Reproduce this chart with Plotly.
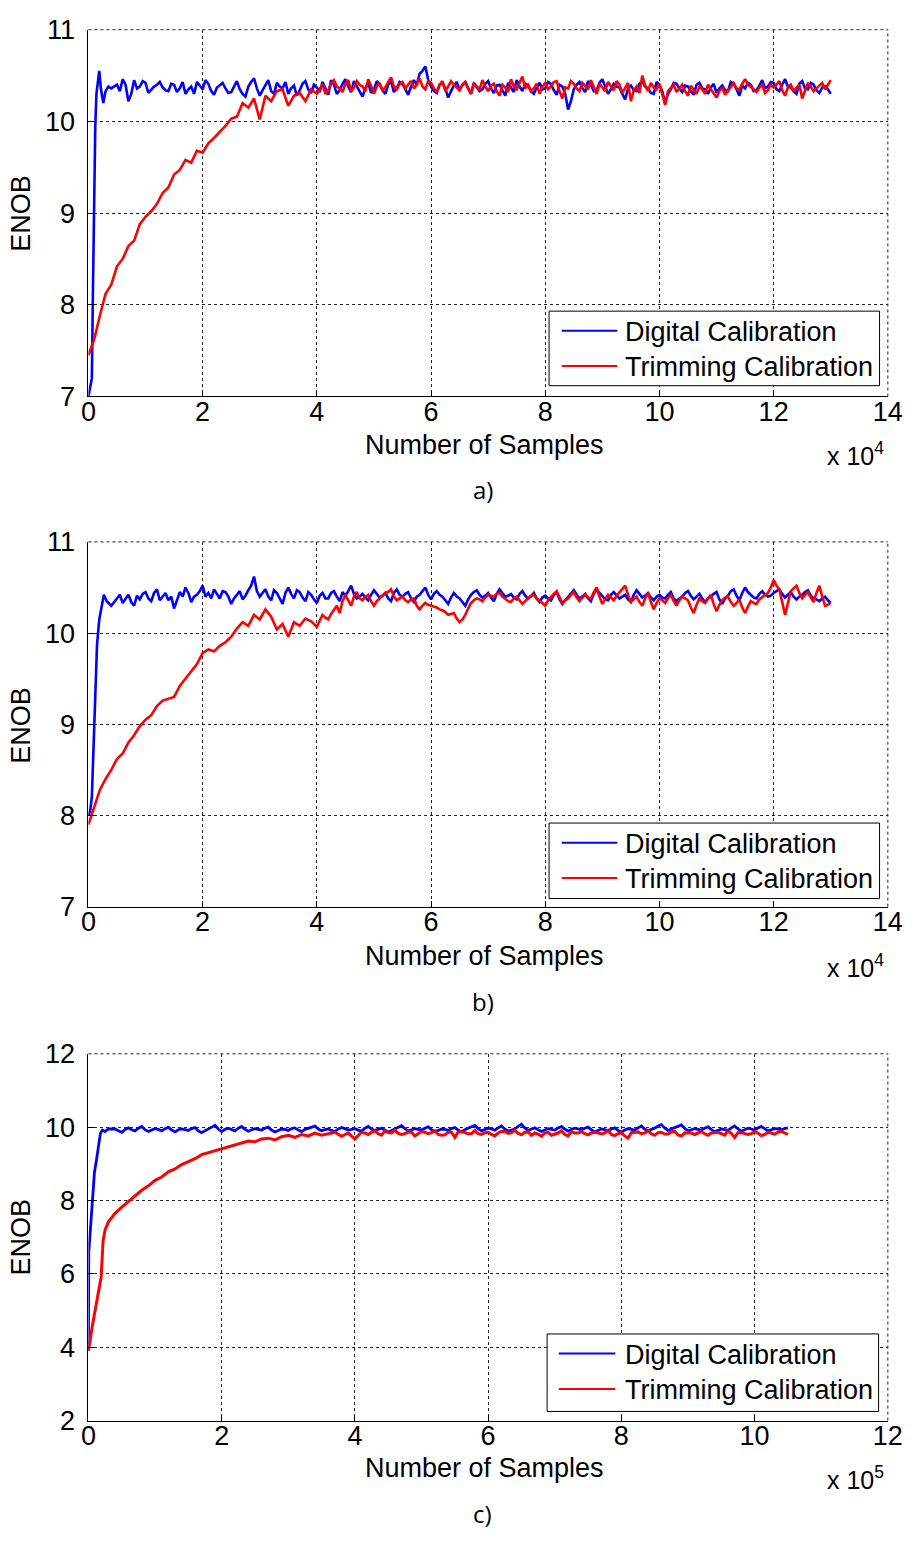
import plotly.graph_objects as go

# ---------------- data (x in units of 1e4 for a/b, 1e5 for c) ----------------
# Panel a
a_blue_rise_x = [0, 0.03, 0.06, 0.08, 0.10, 0.12, 0.14, 0.17, 0.19, 0.22, 0.26, 0.30, 0.35, 0.40]
a_blue_rise_y = [7.0, 7.1, 7.2, 8.2, 9.2, 9.95, 10.3, 10.45, 10.55, 10.35, 10.2, 10.33, 10.38, 10.36]
# values at x = 0.5, 0.6, ... 13.0
a_blue_plateau = [
    10.40, 10.46, 10.22, 10.45, 10.38, 10.42, 10.35, 10.40, 10.37, 10.33,
    10.40, 10.36, 10.30, 10.38, 10.43, 10.35, 10.41, 10.29, 10.40, 10.36,
    10.32, 10.44, 10.30, 10.38, 10.47, 10.28, 10.40, 10.33, 10.42, 10.36,
    10.30, 10.39, 10.34, 10.44, 10.31, 10.37, 10.43, 10.29, 10.40, 10.34,
    10.46, 10.32, 10.38, 10.27, 10.42, 10.35, 10.40, 10.30, 10.44, 10.36,
    10.41, 10.29, 10.45, 10.52, 10.60, 10.38, 10.31, 10.42, 10.26, 10.39,
    10.34, 10.43, 10.30, 10.38, 10.35, 10.44, 10.31, 10.40, 10.28, 10.37,
    10.45, 10.33, 10.39, 10.30, 10.42, 10.36, 10.41, 10.29, 10.38, 10.13,
    10.35, 10.43, 10.32, 10.40, 10.34, 10.46, 10.30, 10.41, 10.37, 10.24,
    10.39, 10.33, 10.44, 10.36, 10.30, 10.40, 10.20, 10.35, 10.41, 10.32,
    10.38, 10.29, 10.42, 10.35, 10.37, 10.31, 10.39, 10.33, 10.41, 10.28,
    10.36, 10.40, 10.34, 10.45, 10.38, 10.42, 10.33, 10.46, 10.37, 10.30,
    10.44, 10.35, 10.40, 10.31, 10.38, 10.30]
# values at x = 0.55, 0.65, ... 12.95
a_blue_half = [
    10.33, 10.40, 10.30, 10.36, 10.44, 10.31, 10.38, 10.43, 10.34, 10.41,
    10.32, 10.43, 10.35, 10.30, 10.39, 10.45, 10.33, 10.37, 10.42, 10.31,
    10.39, 10.35, 10.27, 10.43, 10.36, 10.34, 10.45, 10.30, 10.38, 10.43,
    10.36, 10.28, 10.41, 10.35, 10.40, 10.32, 10.36, 10.45, 10.30, 10.41,
    10.38, 10.44, 10.33, 10.36, 10.31, 10.44, 10.34, 10.40, 10.32, 10.43,
    10.35, 10.38, 10.40, 10.55, 10.45, 10.33, 10.40, 10.36, 10.33, 10.43,
    10.40, 10.36, 10.42, 10.33, 10.41, 10.36, 10.39, 10.34, 10.42, 10.32,
    10.38, 10.41, 10.33, 10.37, 10.35, 10.43, 10.34, 10.40, 10.30, 10.22,
    10.40, 10.36, 10.44, 10.33, 10.42, 10.37, 10.35, 10.38, 10.30, 10.36,
    10.34, 10.41, 10.38, 10.31, 10.43, 10.33, 10.30, 10.42, 10.36, 10.39,
    10.33, 10.40, 10.36, 10.30, 10.41, 10.36, 10.34, 10.43, 10.35, 10.39,
    10.42, 10.33, 10.39, 10.36, 10.43, 10.35, 10.40, 10.38, 10.33, 10.41,
    10.36, 10.42, 10.34, 10.37, 10.35]
# values at x = 0.0, 0.1, ... 13.0
a_red = [
    7.45, 7.62, 7.88, 8.12, 8.22, 8.42, 8.50, 8.64, 8.70, 8.88,
    8.96, 9.02, 9.10, 9.22, 9.28, 9.42, 9.47, 9.58, 9.55, 9.68,
    9.66, 9.76, 9.82, 9.88, 9.95, 10.03, 10.05, 10.20, 10.15, 10.25,
    10.02, 10.28, 10.22, 10.33, 10.35, 10.17, 10.28, 10.31, 10.22, 10.35,
    10.30, 10.40, 10.34, 10.45, 10.36, 10.41, 10.33, 10.44, 10.38, 10.46,
    10.30, 10.42, 10.37, 10.48, 10.35, 10.43, 10.40, 10.36, 10.47, 10.35,
    10.42, 10.32, 10.44, 10.38, 10.40, 10.34, 10.43, 10.30, 10.38, 10.45,
    10.33, 10.41, 10.28, 10.37, 10.46, 10.35, 10.49, 10.40, 10.36, 10.30,
    10.42, 10.38, 10.44, 10.25, 10.36, 10.41, 10.33, 10.39, 10.45, 10.30,
    10.37, 10.43, 10.34, 10.40, 10.36, 10.22, 10.38, 10.50, 10.33, 10.37,
    10.41, 10.18, 10.36, 10.32, 10.40, 10.28, 10.35, 10.38, 10.30, 10.35,
    10.26, 10.37, 10.33, 10.42, 10.35, 10.46, 10.38, 10.32, 10.40, 10.34,
    10.37, 10.44, 10.28, 10.40, 10.36, 10.25, 10.42, 10.33, 10.39, 10.35,
    10.45]
# values at x = 4.05, 4.15, ... 12.95
a_red_half = [
    10.35, 10.30, 10.41, 10.38, 10.32, 10.45, 10.37, 10.40, 10.33, 10.39,
    10.38, 10.34, 10.43, 10.38, 10.41, 10.36, 10.44, 10.40, 10.38, 10.44,
    10.36, 10.40, 10.33, 10.44, 10.37, 10.40, 10.36, 10.41, 10.35, 10.38,
    10.39, 10.33, 10.40, 10.32, 10.38, 10.43, 10.36, 10.33, 10.41, 10.38,
    10.35, 10.43, 10.33, 10.37, 10.44, 10.36, 10.42, 10.35, 10.38, 10.41,
    10.33, 10.39, 10.44, 10.31, 10.42, 10.34, 10.31, 10.39, 10.42, 10.35,
    10.30, 10.33, 10.40, 10.36, 10.33, 10.39, 10.30, 10.35, 10.40, 10.31,
    10.33, 10.29, 10.38, 10.36, 10.41, 10.40, 10.35, 10.37, 10.31, 10.40,
    10.40, 10.34, 10.37, 10.33, 10.40, 10.33, 10.38, 10.36, 10.42, 10.40]

# Panel b
b_blue_rise_x = [0, 0.03, 0.06, 0.08, 0.10, 0.12, 0.15, 0.19, 0.23, 0.27, 0.32, 0.40]
b_blue_rise_y = [8.0, 8.05, 8.2, 8.6, 8.97, 9.4, 9.87, 10.15, 10.30, 10.42, 10.35, 10.30]
b_blue_plateau = [
    10.38, 10.33, 10.42, 10.30, 10.37, 10.45, 10.35, 10.48, 10.40, 10.36,
    10.27, 10.45, 10.50, 10.34, 10.42, 10.52, 10.44, 10.48, 10.38, 10.45,
    10.32, 10.42, 10.37, 10.47, 10.62, 10.40, 10.48, 10.36, 10.44, 10.32,
    10.50, 10.38, 10.45, 10.35, 10.42, 10.33, 10.44, 10.38, 10.46, 10.35,
    10.41, 10.52, 10.38, 10.43, 10.36, 10.47, 10.39, 10.44, 10.35, 10.48,
    10.40, 10.45, 10.34, 10.42, 10.50, 10.37, 10.46, 10.40, 10.32, 10.44,
    10.38, 10.30, 10.42, 10.47, 10.39, 10.44, 10.35, 10.48, 10.40, 10.43,
    10.37, 10.46, 10.38, 10.44, 10.34, 10.41, 10.36, 10.45, 10.32, 10.40,
    10.47, 10.38, 10.43, 10.35, 10.48, 10.40, 10.36, 10.45, 10.38, 10.42,
    10.34, 10.47, 10.39, 10.44, 10.36, 10.42, 10.38, 10.45, 10.35, 10.40,
    10.46, 10.37, 10.43, 10.34, 10.40, 10.45, 10.32, 10.41, 10.48, 10.36,
    10.50, 10.42, 10.38, 10.46, 10.40, 10.44, 10.48, 10.39, 10.45, 10.37,
    10.42, 10.47, 10.38, 10.35, 10.40, 10.33]
b_blue_half = [
    10.42, 10.37, 10.34, 10.41, 10.43, 10.38, 10.44, 10.36, 10.44, 10.40,
    10.35, 10.40, 10.44, 10.40, 10.46, 10.40, 10.38, 10.43, 10.46, 10.40,
    10.38, 10.46, 10.41, 10.52, 10.46, 10.44, 10.40, 10.47, 10.38, 10.44,
    10.43, 10.47, 10.39, 10.45, 10.37, 10.41, 10.38, 10.44, 10.40, 10.45,
    10.46, 10.43, 10.40, 10.39, 10.42, 10.43, 10.41, 10.38, 10.44, 10.42,
    10.43, 10.38, 10.40, 10.46, 10.42, 10.43, 10.42, 10.36, 10.39, 10.40,
    10.34, 10.37, 10.45, 10.42, 10.41, 10.39, 10.43, 10.44, 10.41, 10.39,
    10.43, 10.41, 10.40, 10.38, 10.39, 10.38, 10.42, 10.37, 10.36, 10.44,
    10.42, 10.40, 10.38, 10.43, 10.44, 10.37, 10.42, 10.41, 10.40, 10.37,
    10.42, 10.43, 10.41, 10.39, 10.40, 10.39, 10.42, 10.38, 10.38, 10.44,
    10.41, 10.40, 10.38, 10.38, 10.43, 10.37, 10.38, 10.46, 10.41, 10.44,
    10.45, 10.39, 10.43, 10.42, 10.41, 10.46, 10.43, 10.42, 10.40, 10.40,
    10.45, 10.41, 10.37, 10.38, 10.36]
b_red = [
    7.90, 8.10, 8.28, 8.40, 8.50, 8.62, 8.68, 8.80, 8.88, 8.98,
    9.05, 9.10, 9.20, 9.26, 9.28, 9.30, 9.42, 9.50, 9.58, 9.66,
    9.78, 9.82, 9.80, 9.86, 9.90, 9.96, 10.05, 10.12, 10.08, 10.20,
    10.15, 10.26, 10.18, 10.04, 10.10, 9.96, 10.12, 10.08, 10.16, 10.13,
    10.07, 10.20, 10.15, 10.25, 10.22, 10.42, 10.30, 10.45, 10.36, 10.42,
    10.30, 10.38, 10.44, 10.48, 10.36, 10.40, 10.34, 10.38, 10.26, 10.33,
    10.30, 10.28, 10.25, 10.20, 10.22, 10.12, 10.20, 10.33, 10.38, 10.35,
    10.42, 10.40, 10.44, 10.37, 10.34, 10.40, 10.32, 10.38, 10.42, 10.36,
    10.30, 10.40, 10.46, 10.33, 10.38, 10.45, 10.35, 10.42, 10.38, 10.50,
    10.32, 10.42, 10.36, 10.45, 10.52, 10.34, 10.40, 10.30, 10.44, 10.26,
    10.38, 10.33, 10.42, 10.30, 10.40, 10.36, 10.22, 10.38, 10.33, 10.42,
    10.24, 10.36, 10.40, 10.30, 10.37, 10.22, 10.35, 10.32, 10.40, 10.44,
    10.58, 10.48, 10.20, 10.46, 10.52, 10.38, 10.45, 10.34, 10.52, 10.30,
    10.33]
b_red_half = [
    10.14, 10.17, 10.21, 10.30, 10.35, 10.36, 10.40, 10.38, 10.40, 10.35,
    10.35, 10.42, 10.45, 10.40, 10.38, 10.36, 10.37, 10.30, 10.30, 10.31,
    10.29, 10.26, 10.23, 10.21, 10.16, 10.15, 10.27, 10.36, 10.37, 10.39,
    10.41, 10.43, 10.40, 10.35, 10.38, 10.36, 10.35, 10.41, 10.38, 10.33,
    10.36, 10.43, 10.39, 10.36, 10.42, 10.39, 10.39, 10.39, 10.45, 10.40,
    10.37, 10.39, 10.41, 10.49, 10.42, 10.37, 10.34, 10.38, 10.34, 10.33,
    10.36, 10.38, 10.35, 10.36, 10.38, 10.28, 10.31, 10.35, 10.38, 10.32,
    10.31, 10.39, 10.34, 10.33, 10.28, 10.29, 10.33, 10.37, 10.42, 10.50,
    10.52, 10.33, 10.33, 10.49, 10.44, 10.42, 10.39, 10.44, 10.40, 10.31]

# Panel c
c_blue_rise_x = [0, 0.005, 0.02, 0.04, 0.07, 0.09, 0.12, 0.15, 0.18, 0.21, 0.25, 0.30]
c_blue_rise_y = [3.9, 6.6, 6.97, 7.5, 8.3, 8.76, 9.1, 9.48, 9.83, 9.92, 9.88, 9.95]
# values at x = 0.4, 0.5, ... 10.5
c_blue_plateau = [
    9.95, 9.86, 9.98, 9.90, 10.02, 9.88, 9.96, 9.90, 10.00, 9.87,
    9.95, 9.91, 9.99, 9.85, 9.94, 10.05, 9.88, 9.97, 9.90, 10.02,
    9.89, 9.96, 9.92, 10.00, 9.87, 9.95, 9.91, 9.98, 9.88, 9.97,
    10.03, 9.90, 9.95, 9.88, 9.99, 9.92, 9.96, 9.89, 10.02, 9.91,
    9.97, 9.87, 9.95, 10.04, 9.90, 9.96, 9.92, 10.01, 9.88, 9.95,
    9.91, 9.99, 9.87, 9.96, 10.05, 9.90, 9.97, 9.92, 10.03, 9.89,
    9.95, 10.08, 9.91, 9.98, 9.88, 9.96, 9.92, 10.02, 9.89, 9.97,
    9.93, 10.00, 9.87, 9.95, 9.90, 9.98, 9.86, 9.96, 9.92, 10.03,
    9.90, 9.97, 10.07, 9.91, 9.98, 10.06, 9.90, 9.96, 9.92, 10.01,
    9.88, 9.95, 9.91, 10.03, 9.89, 9.97, 9.92, 10.02, 9.90, 9.96,
    9.93, 9.98]
# values at x = 0.45, 0.55, ... 10.45
c_blue_half = [
    9.90, 9.94, 9.93, 9.97, 9.93, 9.92, 9.94, 9.96, 9.92, 9.93,
    9.93, 9.96, 9.90, 9.90, 10.00, 9.95, 9.94, 9.93, 9.97, 9.94,
    9.93, 9.94, 9.97, 9.92, 9.91, 9.94, 9.96, 9.92, 9.94, 10.01,
    9.95, 9.93, 9.91, 9.95, 9.96, 9.94, 9.92, 9.97, 9.95, 9.94,
    9.92, 9.91, 10.00, 9.96, 9.93, 9.94, 9.97, 9.93, 9.91, 9.94,
    9.96, 9.92, 9.93, 10.01, 9.96, 9.94, 9.95, 9.98, 9.95, 9.92,
    10.02, 9.98, 9.95, 9.93, 9.92, 9.94, 9.98, 9.95, 9.94, 9.95,
    9.97, 9.93, 9.91, 9.93, 9.95, 9.91, 9.92, 9.94, 9.98, 9.95,
    9.94, 10.03, 9.98, 9.95, 10.02, 9.97, 9.93, 9.94, 9.97, 9.94,
    9.91, 9.93, 9.98, 9.95, 9.93, 9.95, 9.98, 9.96, 9.93, 9.95,
    9.96]
c_red_rise_x = [0, 0.02, 0.06, 0.10, 0.14, 0.19, 0.22, 0.25]
c_red_rise_y = [3.9, 4.15, 4.6, 5.0, 5.4, 5.9, 6.9, 7.2]
# values at x = 0.3, 0.4, ... 10.5
c_red_plateau = [
    7.42, 7.65, 7.82, 7.98, 8.12, 8.28, 8.40, 8.55, 8.64, 8.78,
    8.86, 8.98, 9.06, 9.14, 9.25, 9.30, 9.36, 9.40, 9.46, 9.50,
    9.55, 9.62, 9.60, 9.68, 9.70, 9.65, 9.74, 9.78, 9.72, 9.80,
    9.76, 9.84, 9.78, 9.82, 9.86, 9.75, 9.84, 9.68, 9.86, 9.80,
    9.90, 9.78, 9.85, 9.92, 9.80, 9.87, 9.76, 9.88, 9.82, 9.90,
    9.78, 9.86, 9.72, 9.88, 9.82, 9.91, 9.80, 9.86, 9.76, 9.89,
    9.83, 9.92, 9.79, 9.87, 9.84, 9.75, 9.86, 9.80, 9.90, 9.76,
    9.84, 9.88, 9.79, 9.86, 9.82, 9.91, 9.77, 9.85, 9.70, 9.87,
    9.82, 9.90, 9.78, 9.86, 9.81, 9.89, 9.76, 9.85, 9.80, 9.88,
    9.78, 9.86, 9.82, 9.90, 9.72, 9.85, 9.80, 9.88, 9.77, 9.86,
    9.81, 9.89, 9.80]
# values at x = 4.05, 4.15, ... 10.45
c_red_half = [
    9.76, 9.84, 9.86, 9.82, 9.90, 9.84, 9.83, 9.82, 9.86, 9.82,
    9.86, 9.85, 9.80, 9.79, 9.86, 9.87, 9.85, 9.82, 9.82, 9.85,
    9.80, 9.84, 9.88, 9.85, 9.83, 9.86, 9.78, 9.81, 9.84, 9.78,
    9.84, 9.80, 9.87, 9.84, 9.82, 9.84, 9.85, 9.84, 9.80, 9.82,
    9.76, 9.85, 9.87, 9.84, 9.82, 9.85, 9.81, 9.87, 9.79, 9.84,
    9.84, 9.83, 9.82, 9.84, 9.86, 9.78, 9.83, 9.85, 9.82, 9.82,
    9.84, 9.80, 9.84, 9.86, 9.84]

x_ticks_ab = [0, 2, 4, 6, 8, 10, 12, 14]
x_ticks_c = [0, 2, 4, 6, 8, 10, 12]
names = ["Digital Calibration", "Trimming Calibration"]
panel_labels = ["a)", "b)", "c)"]


def grid(start, n, step=0.1):
    return [round(start + i * step, 3) for i in range(n)]


def merge(xa, ya, xb, yb):
    pts = sorted(zip(xa + xb, ya + yb))
    return [p[0] for p in pts], [p[1] for p in pts]


# ---------------- figure ----------------
W, H = 916, 1550


def PY(p):
    return 1 - p / H


def PX(p):
    return p / W


BLUE = "#0000FF"
RED = "#FF0000"
FONT = "Liberation Sans, Arial, sans-serif"
FS = 27

fig = go.Figure()

series = []
x, y = merge(a_blue_rise_x + grid(0.5, len(a_blue_plateau)), a_blue_rise_y + a_blue_plateau,
             grid(0.55, len(a_blue_half)), a_blue_half)
series.append((x, y, BLUE, names[0], "", 2.6))
x, y = merge(grid(0.0, len(a_red)), a_red, grid(4.05, len(a_red_half)), a_red_half)
series.append((x, y, RED, names[1], "", 2.6))
x, y = merge(b_blue_rise_x + grid(0.5, len(b_blue_plateau)), b_blue_rise_y + b_blue_plateau,
             grid(0.55, len(b_blue_half)), b_blue_half)
series.append((x, y, BLUE, names[0], "2", 2.6))
x, y = merge(grid(0.0, len(b_red)), b_red, grid(4.05, len(b_red_half)), b_red_half)
series.append((x, y, RED, names[1], "2", 2.6))
x, y = merge(c_blue_rise_x + grid(0.4, len(c_blue_plateau)), c_blue_rise_y + c_blue_plateau,
             grid(0.45, len(c_blue_half)), c_blue_half)
series.append((x, y, BLUE, names[0], "3", 2.8))
x, y = merge(c_red_rise_x + grid(0.3, len(c_red_plateau)), c_red_rise_y + c_red_plateau,
             grid(4.05, len(c_red_half)), c_red_half)
series.append((x, y, RED, names[1], "3", 3.0))

for x, y, col, nm, sfx, lw in series:
    fig.add_trace(go.Scatter(x=x, y=y, mode="lines", name=nm, showlegend=False,
                             line=dict(color=col, width=lw),
                             xaxis="x" + sfx, yaxis="y" + sfx))

axis_common = dict(showline=True, linecolor="black", linewidth=1, mirror=False,
                   ticks="inside", ticklen=6, tickcolor="black", tickwidth=1,
                   showgrid=True, gridcolor="#222222", griddash="3px,3px", gridwidth=1,
                   zeroline=False, ticklabeloverflow="allow",
                   tickfont=dict(family=FONT, size=FS, color="black"))

xdom = [PX(82.5), PX(902.5)]
ydoms = [[PY(389), PY(15)], [PY(909.3), PY(537.3)], [PY(1433.3), PY(1059.3)]]

fig.update_layout(
    width=W, height=H, margin=dict(l=0, r=0, t=0, b=0),
    paper_bgcolor="white", plot_bgcolor="white", showlegend=False,
    font=dict(family=FONT, color="black"),
    xaxis=dict(domain=xdom, range=[0, 14], tickvals=x_ticks_ab, anchor="y", ticklabelstandoff=-9, **axis_common),
    yaxis=dict(domain=ydoms[0], range=[7, 11], dtick=1, anchor="x", ticklabelstandoff=7, **axis_common),
    xaxis2=dict(domain=xdom, range=[0, 14], tickvals=x_ticks_ab, anchor="y2", ticklabelstandoff=-9, **axis_common),
    yaxis2=dict(domain=ydoms[1], range=[7, 11], dtick=1, anchor="x2", ticklabelstandoff=7, **axis_common),
    xaxis3=dict(domain=xdom, range=[0, 12], tickvals=x_ticks_c, anchor="y3", ticklabelstandoff=-9, **axis_common),
    yaxis3=dict(domain=ydoms[2], range=[2, 12], dtick=2, anchor="x3", ticklabelstandoff=7, **axis_common),
)

shapes = []
ann = []
# dotted grid lines on the top and right edges of each panel
for sfx in ["", "2", "3"]:
    xd, yd = "x" + sfx + " domain", "y" + sfx + " domain"
    dash = dict(color="#222222", width=1, dash="3px,3px")
    shapes.append(dict(type="line", xref=xd, yref=yd, x0=0, x1=1, y0=1, y1=1, line=dash, layer="below"))
    shapes.append(dict(type="line", xref=xd, yref=yd, x0=1, x1=1, y0=0, y1=1, line=dash, layer="below"))

# legends drawn as boxes with line samples and text
for (bx0, bx1, by0, by1, lx0, lx1, ly1, ly2, tx) in [
        (555, 894, 302, 378, 568, 625, 322, 358, 631),
        (555, 894, 824, 901, 568, 625, 844, 880, 631),
        (553, 893, 1345, 1424, 565, 623, 1365, 1401, 631)]:
    shapes.append(dict(type="rect", xref="paper", yref="paper", x0=PX(bx0), x1=PX(bx1),
                       y0=PY(by1), y1=PY(by0), line=dict(color="black", width=1),
                       fillcolor="white", layer="above"))
    for ly, col, nm in [(ly1, BLUE, names[0]), (ly2, RED, names[1])]:
        shapes.append(dict(type="line", xref="paper", yref="paper", x0=PX(lx0), x1=PX(lx1),
                           y0=PY(ly), y1=PY(ly), line=dict(color=col, width=2), layer="above"))
        ann.append(dict(text=nm, x=PX(tx), y=PY(ly + 1), showarrow=False, xref="paper", yref="paper",
                        xanchor="left", yanchor="middle", font=dict(family=FONT, size=FS)))

for ycen, title_y, exp_y, lab_y, exp, lab in [
        (202, 438, 448, 484, "4", panel_labels[0]),
        (724, 960, 970, 1006, "4", panel_labels[1]),
        (1246, 1482, 1492, 1528, "5", panel_labels[2])]:
    ann.append(dict(text="ENOB", x=PX(13), y=PY(ycen), textangle=-90, showarrow=False,
                    xref="paper", yref="paper", xanchor="center", yanchor="middle",
                    font=dict(family=FONT, size=FS)))
    ann.append(dict(text="Number of Samples", x=PX(489), y=PY(title_y), showarrow=False,
                    xref="paper", yref="paper", xanchor="center", yanchor="middle",
                    font=dict(family=FONT, size=FS)))
    ann.append(dict(text="x 10<sup>" + exp + "</sup>", x=PX(901), y=PY(exp_y), showarrow=False,
                    xref="paper", yref="paper", xanchor="right", yanchor="middle",
                    font=dict(family=FONT, size=25)))
    ann.append(dict(text=lab, x=PX(487), y=PY(lab_y), showarrow=False,
                    xref="paper", yref="paper", xanchor="center", yanchor="middle",
                    font=dict(family="Open Sans, Lato, sans-serif", size=24)))

fig.update_layout(shapes=shapes, annotations=ann)

fig.write_html("out.html",
               post_script="document.body.style.margin='0px';document.body.style.overflow='hidden';")
